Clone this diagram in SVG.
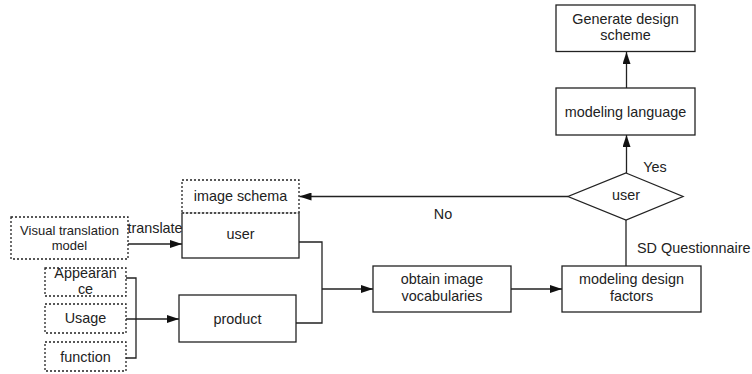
<svg xmlns="http://www.w3.org/2000/svg" width="752" height="374" viewBox="0 0 752 374">
<style>
  .box{fill:#fff;stroke:#222;stroke-width:1.3}
  .dot{fill:#fff;stroke:#222;stroke-width:1.3;stroke-dasharray:2 2}
  .ln{fill:none;stroke:#222;stroke-width:1.3}
  text{font-family:"Liberation Sans",Arial,sans-serif;font-size:14.4px;fill:#222;text-anchor:middle}
  .sm{font-size:13px}
</style>
<defs>
  <marker id="ah" markerWidth="12" markerHeight="8" refX="12" refY="4" orient="auto" markerUnits="userSpaceOnUse">
    <path d="M0,0 L12,4 L0,8 Z" fill="#111"/>
  </marker>
</defs>
<g id="connectors">
  <line class="ln" x1="128" y1="244" x2="182" y2="244" marker-end="url(#ah)"/>
  <polyline class="ln" points="126,278 136,278 136,358 126,358"/>
  <line class="ln" x1="126" y1="319" x2="179" y2="319" marker-end="url(#ah)"/>
  <polyline class="ln" points="299,242 322,242 322,323 296,323"/>
  <line class="ln" x1="322" y1="289" x2="373" y2="289" marker-end="url(#ah)"/>
  <line class="ln" x1="511" y1="289" x2="562" y2="289" marker-end="url(#ah)"/>
  <line class="ln" x1="626" y1="266" x2="626" y2="220"/>
  <line class="ln" x1="568" y1="196.5" x2="299.5" y2="196.5" marker-end="url(#ah)"/>
  <line class="ln" x1="626.5" y1="173" x2="626.5" y2="135" marker-end="url(#ah)"/>
  <line class="ln" x1="626.5" y1="88" x2="626.5" y2="52" marker-end="url(#ah)"/>
  <text x="443" y="219">No</text>
  <text x="637" y="253" style="text-anchor:start">SD Questionnaire</text>
  <text x="655" y="172">Yes</text>
  <text x="155" y="233">translate</text>
</g>
<g id="image-schema">
  <rect class="dot" x="182" y="180" width="117" height="33"/>
  <text x="240.5" y="201">image schema</text>
</g>
<g id="user">
  <rect class="box" x="182" y="213" width="117" height="45"/>
  <line x1="182" y1="213" x2="299" y2="213" stroke="#fff" stroke-width="1.5"/>
  <line x1="182" y1="213" x2="299" y2="213" stroke="#222" stroke-width="1.3" stroke-dasharray="2 2"/>
  <text x="240.5" y="239">user</text>
</g>
<g id="visual-translation-model">
  <rect class="dot" x="11" y="217" width="117" height="42"/>
  <text class="sm" x="69.5" y="235">Visual translation</text>
  <text class="sm" x="69.5" y="250">model</text>
</g>
<g id="appearance">
  <rect class="dot" x="45" y="268" width="81" height="28"/>
  <text x="85.5" y="278">Appearan</text>
  <text x="85.5" y="294">ce</text>
</g>
<g id="usage">
  <rect class="dot" x="45" y="304" width="81" height="29"/>
  <text x="85.5" y="323">Usage</text>
</g>
<g id="function">
  <rect class="dot" x="45" y="342" width="81" height="29"/>
  <text x="85.5" y="361.5">function</text>
</g>
<g id="product">
  <rect class="box" x="179" y="295" width="117" height="47"/>
  <text x="237.5" y="323.5">product</text>
</g>
<g id="obtain-image-vocabularies">
  <rect class="box" x="373" y="266" width="138" height="46"/>
  <text x="442" y="284">obtain image</text>
  <text x="442" y="301">vocabularies</text>
</g>
<g id="modeling-design-factors">
  <rect class="box" x="562" y="266" width="139" height="46"/>
  <text x="631.5" y="284">modeling design</text>
  <text x="631.5" y="301">factors</text>
</g>
<g id="decision-user">
  <polygon class="box" points="626,173 683,196.5 626,220 568,196.5"/>
  <text x="626" y="200">user</text>
</g>
<g id="modeling-language">
  <rect class="box" x="556" y="88" width="139" height="47"/>
  <text x="625.5" y="116.5">modeling language</text>
</g>
<g id="generate-design-scheme">
  <rect class="box" x="556" y="5" width="139" height="46.5"/>
  <text x="625.5" y="23.5">Generate design</text>
  <text x="625.5" y="40">scheme</text>
</g>
</svg>
